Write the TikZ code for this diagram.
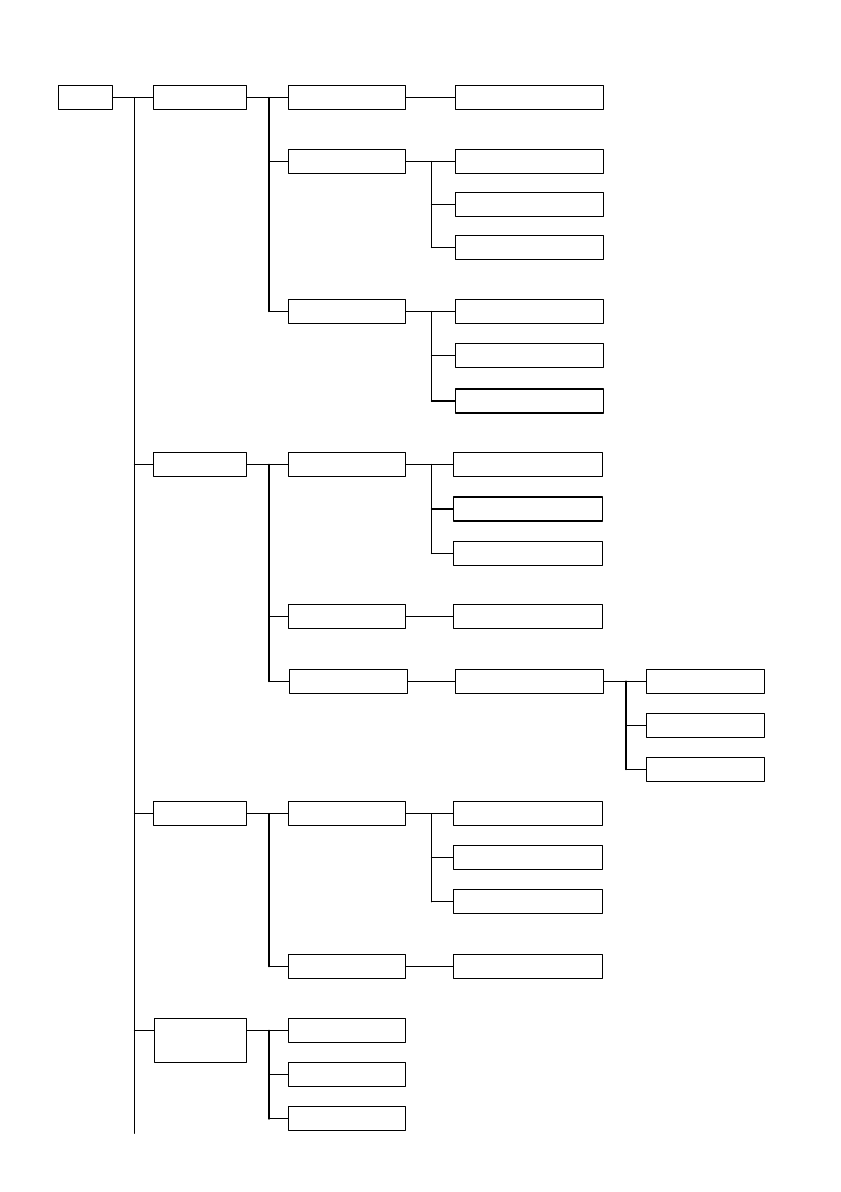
\documentclass[tikz,border=0pt]{standalone}
\usepackage{tikz}

\begin{document}
\begin{tikzpicture}[line cap=round,line join=round,line width=0.8pt
  ,x=0.75pt,y=-0.75pt
  ,box/.style={draw,line width=0.8pt,inner sep=0pt,minimum height=18pt}
  ,rootbox/.style={box,minimum width=40.8pt}
  ,onebox/.style={box,minimum width=69.5pt}
  ,twobox/.style={box,minimum width=88pt}
  ,threebox/.style={box,minimum width=111.3pt}
  ,fourbox/.style={box,minimum width=88.5pt}
  ,spine/.style={line width=1.4pt}]
  \useasboundingbox (0,0) rectangle (840,1192);
  % boxes
  \node[rootbox] (root) at (85.5,97.7) {};
  \node[onebox] (A) at (200,97.7) {};
  \node[onebox] (B) at (200,464.5) {};
  \node[onebox] (C) at (200,813.8) {};
  \node[onebox,minimum height=33.3pt] (D) at (200.5,1040.5) {};
  \foreach \n/\y in {A1/97.7,A2/161.3,A3/311.3,B1/464.5,B2/616.8
    ,C1/813.8,C2/966.5,D1/1030.5,D2/1074.7,D3/1118.8}
  \node[twobox] (\n) at (347,\y) {};
  \node[twobox] (B3) at (348.5,681.3) {};
  \foreach \n/\y in {A1a/97.7,A2a/161.3,A2b/204.5,A2c/247.7
    ,A3a/311.3,A3b/355.7,A3c/401,B3a/681.3}
  \node[threebox] (\n) at (529.5,\y) {};
  \foreach \n/\y in {B1a/464.5,B1b/509,B1c/553.7,B2a/616.8
    ,C1a/813.8,C1b/857.8,C1c/901.8,C2a/966.5}
  \node[threebox] (\n) at (528,\y) {};
  \foreach \n/\y in {B3a1/681.3,B3a2/725.3,B3a3/769.3}
  \node[fourbox] (\n) at (705.7,\y) {};
  % spines
  \coordinate (top) at (134.3,97.7);
  \coordinate (bottom) at (134.3,1133.3);
  \coordinate (two) at (269,0);
  \coordinate (three) at (431.3,0);
  \coordinate (four) at (626,0);
  \draw (root) -- (A);
  \draw (top) -- (bottom);
  \foreach \g in {B,C} \draw (top |- \g) -- (\g);
  \draw (top |- D1) -- (D.west |- D1);
  % level two
  \foreach \p/\f/\l in {A/A1/A3,B/B1/B3,C/C1/C2}
  {\draw (\p) -- (\f);
   \draw[spine] (two |- \f) -- (two |- \l);}
  \draw (D.east |- D1) -- (D1);
  \draw[spine] (two |- D1) -- (two |- D3);
  \foreach \c in {A2,A3,B2,B3,C2,D2,D3} \draw (two |- \c) -- (\c);
  % level three
  \foreach \p in {A1,B2,B3,C2} \draw (\p) -- (\p a);
  \foreach \p in {A2,A3,B1,C1}
  {\draw (\p) -- (\p a);
   \draw (three |- \p a) -- (three |- \p c);
   \foreach \c in {b,c} \draw (three |- \p\c) -- (\p\c);}
  % level four
  \draw (B3a) -- (B3a1);
  \draw[spine] (four |- B3a1) -- (four |- B3a3);
  \foreach \c in {2,3} \draw (four |- B3a\c) -- (B3a\c);
\end{tikzpicture}
\end{document}
